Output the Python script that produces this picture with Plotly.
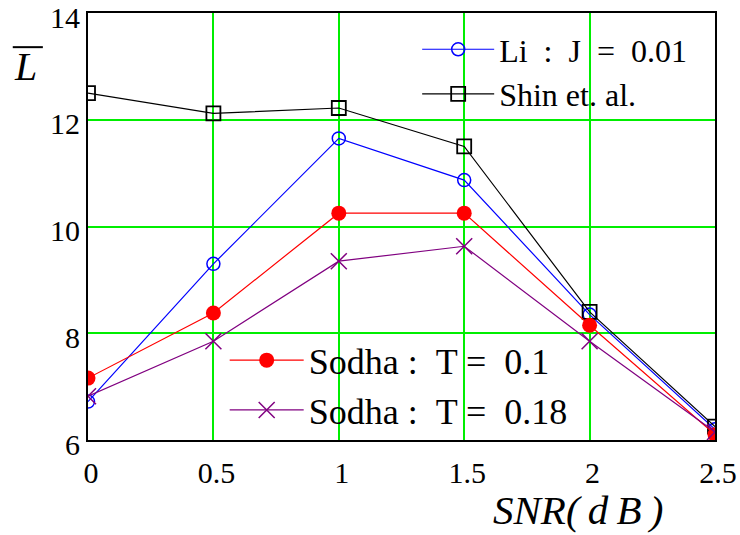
import plotly.graph_objects as go

snr = [0, 0.5, 1, 1.5, 2, 2.5]
li_j001 = [6.72, 9.3, 11.65, 10.87, 8.35, 6.2]
shin = [12.5, 12.12, 12.22, 11.5, 8.4, 6.25]
sodha_t01 = [7.16, 8.38, 10.25, 10.25, 8.15, 6.1]
sodha_t018 = [6.82, 7.85, 9.35, 9.63, 7.85, 6.15]

x_ticks = [0, 0.5, 1, 1.5, 2, 2.5]
y_ticks = [6, 8, 10, 12, 14]

SERIF = "Liberation Serif"
NB = "\u00a0"

fig = go.Figure()
fig.add_trace(go.Scatter(
    x=snr, y=li_j001, mode="lines+markers",
    name=f"Li{NB}{NB}:{NB}{NB}J{NB}{NB}={NB}{NB}0.01",
    line=dict(color="#0000ff", width=1.2),
    marker=dict(symbol="circle-open", size=13, color="#0000ff", line=dict(width=1.5)),
    legend="legend"))
fig.add_trace(go.Scatter(
    x=snr, y=shin, mode="lines+markers", name="Shin et. al.",
    line=dict(color="#000000", width=1.2),
    marker=dict(symbol="square-open", size=14, color="#000000", line=dict(width=1.8)),
    legend="legend"))
fig.add_trace(go.Scatter(
    x=snr, y=sodha_t01, mode="lines+markers",
    name=f"Sodha :{NB}{NB}T ={NB}{NB}0.1",
    line=dict(color="#ff0000", width=1.2),
    marker=dict(symbol="circle", size=15, color="#ff0000"),
    legend="legend2"))
fig.add_trace(go.Scatter(
    x=snr, y=sodha_t018, mode="lines+markers",
    name=f"Sodha :{NB}{NB}T ={NB}{NB}0.18",
    line=dict(color="#800080", width=1.2),
    marker=dict(symbol="x-thin-open", size=16, color="#800080", line=dict(width=1.5, color="#800080")),
    legend="legend2"))

fig.update_layout(
    width=740, height=535,
    margin=dict(l=88, r=25, t=13, b=95, autoexpand=False),
    paper_bgcolor="white", plot_bgcolor="white",
    font=dict(family=SERIF, color="black"),
    legend=dict(x=0.525, y=0.979, xanchor="left", yanchor="top",
                bgcolor="rgba(0,0,0,0)", font=dict(size=32, family=SERIF),
                itemwidth=72, tracegroupgap=0),
    legend2=dict(x=0.218, y=0.257, xanchor="left", yanchor="top",
                 bgcolor="rgba(0,0,0,0)", font=dict(size=36, family=SERIF),
                 itemwidth=74, tracegroupgap=0),
    annotations=[
        dict(text="<i>SNR(\u2009d\u2009B\u2009)</i>", xref="paper", yref="paper", x=0.781, y=-0.164,
             xanchor="center", yanchor="middle", showarrow=False,
             font=dict(size=41, family=SERIF)),
        dict(text="<i>L</i>", xref="paper", yref="paper", x=-0.1, y=0.875,
             xanchor="center", yanchor="middle", showarrow=False,
             font=dict(size=40, family=SERIF)),
    ],
    shapes=[
        dict(type="line", xref="paper", yref="paper", x0=-0.12, x1=-0.072,
             y0=0.92, y1=0.92, line=dict(color="black", width=2)),
    ],
)
fig.update_xaxes(
    range=[0, 2.5], tickvals=x_ticks, ticktext=[str(v) for v in x_ticks],
    showgrid=True, gridcolor="#00ee00", gridwidth=2,
    showline=True, linecolor="black", linewidth=2, mirror=True,
    ticks="", zeroline=False, tickfont=dict(size=30, family=SERIF),
    ticklabelstandoff=5, ticklabelshift=3, ticklabeloverflow="allow", automargin=False)
fig.update_yaxes(
    range=[6, 14], tickvals=y_ticks, ticktext=[str(v) for v in y_ticks],
    showgrid=True, gridcolor="#00ee00", gridwidth=2,
    showline=True, linecolor="black", linewidth=2, mirror=True,
    ticks="", zeroline=False, tickfont=dict(size=30, family=SERIF),
    ticklabelstandoff=0, ticklabelshift=4, ticklabeloverflow="allow", automargin=False)

# remove the page's default 8px body margin so the figure fills the 740x535 window
fig.write_html("out.html", post_script="document.body.style.margin='0';",
               config={"displayModeBar": False})
